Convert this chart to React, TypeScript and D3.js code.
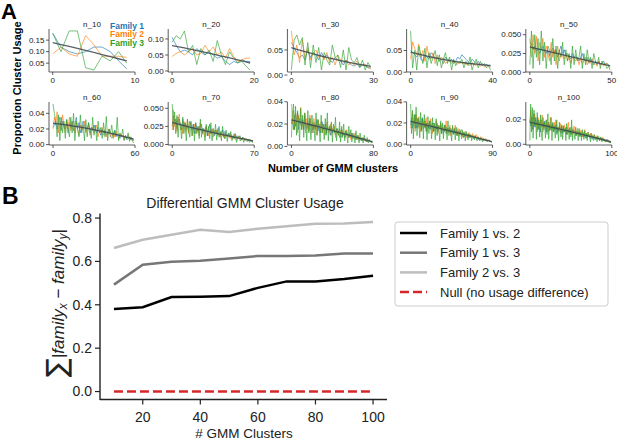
import * as d3 from "d3";

// ---------- panel A data (cluster usage, in thousandths) ----------
const families = ["Family 1", "Family 2", "Family 3"];
const familyColors = ["#1f77b4", "#ff7f0e", "#2ca02c"];
const clusterCounts = [10, 20, 30, 40, 50, 60, 70, 80, 90, 100];

const use10a = [180, 120, 100, 90, 100, 120, 120, 100, 60, 25];
const use10b = [90, 120, 90, 80, 170, 130, 80, 80, 80, 75];
const use10c = [180, 100, 190, 190, 30, 20, 80, 60, 100, 50];

const use20a = [105, 80, 60, 65, 60, 50, 70, 60, 50, 60,
  50, 40, 45, 30, 20, 30, 25, 35, 30, 30];
const use20b = [45, 55, 60, 50, 60, 70, 50, 55, 80, 60,
  75, 50, 60, 40, 70, 45, 30, 35, 40, 40];
const use20c = [90, 110, 100, 125, 60, 80, 20, 70, 50, 65,
  30, 95, 50, 20, 60, 40, 25, 30, 15, 3];

const use30a = [65, 55, 45, 35, 40, 30, 50, 35, 45, 40,
  30, 45, 35, 40, 30, 25, 35, 30, 28, 20,
  30, 25, 20, 18, 22, 15, 20, 18, 15, 14];
const use30b = [88, 40, 60, 25, 70, 35, 55, 30, 45, 50,
  35, 40, 30, 45, 25, 35, 20, 40, 30, 25,
  30, 20, 25, 20, 28, 18, 20, 22, 15, 12];
const use30c = [10, 70, 80, 60, 75, 20, 65, 15, 60, 25,
  55, 10, 45, 30, 20, 60, 35, 40, 15, 50,
  10, 55, 30, 25, 35, 15, 30, 10, 25, 15];

const use40a = [50, 45, 40, 35, 45, 30, 25, 40, 35, 30,
  45, 40, 30, 35, 25, 30, 20, 35, 30, 25,
  30, 20, 25, 35, 30, 40, 35, 30, 25, 20,
  30, 25, 20, 25, 18, 20, 15, 18, 15, 14];
const use40b = [30, 70, 55, 40, 65, 35, 50, 25, 60, 35,
  30, 45, 20, 40, 25, 35, 30, 20, 25, 30,
  20, 25, 22, 18, 25, 20, 22, 18, 20, 15,
  22, 18, 15, 20, 14, 18, 12, 15, 14, 12];
const use40c = [95, 10, 50, 5, 60, 40, 20, 55, 10, 45,
  20, 35, 50, 15, 40, 10, 30, 45, 20, 35,
  5, 30, 15, 25, 20, 30, 10, 25, 15, 35,
  5, 20, 30, 10, 25, 15, 20, 10, 15, 5];

const use50a = [40, 38, 30, 35, 28, 32, 25, 30, 35, 28,
  25, 30, 22, 28, 32, 25, 30, 20, 28, 35,
  25, 30, 22, 25, 20, 18, 25, 20, 22, 18,
  15, 20, 25, 18, 15, 20, 12, 18, 15, 10,
  15, 12, 14, 10, 12, 15, 10, 12, 10, 8];
const use50b = [45, 20, 50, 25, 48, 15, 40, 30, 45, 20,
  35, 25, 15, 40, 20, 30, 10, 35, 15, 25,
  20, 18, 25, 15, 22, 12, 20, 18, 15, 20,
  10, 18, 12, 15, 20, 10, 15, 12, 18, 10,
  12, 8, 15, 10, 12, 8, 10, 12, 8, 6];
const use50c = [10, 55, 5, 50, 20, 45, 10, 55, 15, 40,
  5, 35, 30, 10, 45, 15, 35, 5, 30, 20,
  40, 10, 30, 15, 25, 5, 35, 10, 30, 15,
  20, 35, 5, 25, 10, 30, 15, 20, 5, 25,
  15, 10, 20, 5, 15, 10, 12, 5, 8, 3];

const use60a = [22, 25, 30, 20, 28, 35, 18, 30, 25, 20,
  32, 15, 28, 22, 30, 18, 25, 35, 20, 28,
  15, 22, 30, 25, 18, 20, 28, 15, 22, 18,
  25, 20, 15, 22, 18, 12, 20, 15, 18, 12,
  15, 20, 10, 15, 12, 18, 10, 14, 12, 8,
  12, 10, 8, 10, 6, 8, 10, 6, 8, 5];
const use60b = [20, 35, 25, 42, 15, 30, 20, 38, 25, 15,
  30, 20, 35, 18, 25, 30, 15, 28, 20, 12,
  25, 18, 22, 30, 15, 20, 25, 12, 18, 22,
  15, 20, 25, 10, 18, 15, 22, 12, 18, 10,
  15, 20, 12, 8, 15, 10, 18, 12, 8, 14,
  10, 12, 6, 10, 8, 12, 6, 8, 5, 6];
const use60c = [52, 40, 30, 10, 38, 5, 35, 15, 30, 8,
  32, 20, 10, 35, 15, 40, 5, 30, 20, 10,
  38, 15, 25, 5, 32, 10, 28, 20, 8, 35,
  12, 25, 5, 30, 15, 22, 8, 28, 10, 36,
  5, 20, 15, 25, 8, 18, 12, 35, 5, 15,
  10, 20, 5, 12, 8, 15, 4, 10, 6, 2];

const use70a = [25, 40, 30, 35, 22, 38, 28, 30, 20, 35,
  25, 30, 22, 28, 18, 32, 25, 20, 28, 15,
  30, 22, 18, 25, 20, 28, 15, 22, 18, 25,
  12, 20, 28, 15, 18, 22, 12, 20, 15, 18,
  25, 12, 15, 20, 10, 18, 14, 12, 16, 10,
  14, 12, 8, 15, 10, 12, 8, 10, 12, 6,
  10, 8, 6, 8, 6, 5, 7, 6, 5, 4];
const use70b = [20, 48, 25, 35, 18, 30, 42, 20, 28, 15,
  32, 22, 18, 35, 15, 25, 30, 12, 22, 28,
  15, 20, 25, 12, 30, 18, 15, 22, 10, 25,
  18, 12, 20, 15, 22, 10, 18, 14, 20, 12,
  16, 10, 18, 12, 15, 8, 14, 10, 12, 16,
  8, 12, 10, 14, 6, 10, 12, 8, 10, 6,
  8, 10, 5, 8, 6, 7, 5, 6, 4, 5];
const use70c = [56, 20, 45, 15, 40, 10, 35, 25, 8, 38,
  15, 30, 5, 35, 20, 10, 32, 12, 28, 5,
  30, 15, 25, 8, 35, 10, 22, 18, 5, 28,
  12, 25, 8, 30, 5, 20, 15, 28, 6, 22,
  10, 18, 5, 25, 12, 8, 20, 4, 15, 10,
  18, 5, 12, 8, 15, 3, 10, 12, 5, 8,
  10, 3, 8, 6, 4, 7, 3, 5, 4, 2];

const use80a = [20, 25, 15, 28, 18, 22, 30, 15, 25, 20,
  18, 24, 15, 28, 20, 16, 22, 14, 25, 18,
  20, 12, 22, 16, 18, 24, 14, 20, 12, 18,
  22, 15, 16, 20, 12, 18, 14, 16, 10, 18,
  12, 15, 14, 10, 16, 12, 14, 8, 12, 15,
  10, 12, 8, 14, 10, 12, 8, 10, 9, 12,
  7, 10, 8, 6, 9, 7, 8, 6, 7, 5,
  6, 7, 5, 6, 4, 5, 6, 4, 5, 4];
const use80b = [38, 20, 32, 15, 30, 25, 12, 28, 20, 35,
  15, 22, 18, 30, 12, 25, 20, 15, 28, 18,
  12, 22, 25, 15, 20, 10, 24, 18, 14, 22,
  12, 20, 16, 10, 18, 22, 12, 15, 20, 10,
  16, 14, 18, 8, 15, 12, 10, 16, 12, 8,
  14, 10, 12, 8, 15, 10, 8, 12, 6, 10,
  9, 7, 12, 8, 6, 10, 5, 8, 7, 6,
  8, 5, 7, 6, 4, 6, 5, 4, 5, 3];
const use80c = [8, 30, 38, 15, 36, 10, 32, 20, 5, 34,
  15, 28, 8, 30, 18, 5, 32, 12, 25, 6,
  28, 15, 20, 5, 30, 10, 24, 18, 4, 28,
  12, 20, 6, 25, 10, 30, 5, 18, 14, 22,
  4, 20, 12, 26, 5, 16, 10, 22, 4, 18,
  8, 20, 5, 14, 12, 3, 18, 8, 15, 4,
  12, 10, 3, 14, 6, 10, 3, 12, 5, 8,
  3, 10, 6, 4, 8, 3, 6, 5, 3, 4];

const use90a = [18, 25, 15, 22, 20, 28, 15, 20, 24, 16,
  22, 18, 14, 25, 20, 16, 22, 12, 20, 18,
  15, 22, 14, 18, 20, 12, 18, 16, 14, 20,
  12, 17, 15, 18, 10, 16, 14, 12, 18, 10,
  15, 13, 11, 16, 10, 14, 12, 9, 15, 10,
  12, 8, 13, 11, 9, 12, 8, 10, 11, 7,
  9, 10, 8, 6, 9, 7, 8, 6, 7, 8,
  5, 7, 6, 5, 6, 4, 5, 6, 4, 5,
  3, 4, 5, 3, 4, 3, 4, 3, 2, 3];
const use90b = [15, 22, 30, 18, 25, 12, 28, 20, 15, 26,
  18, 12, 24, 20, 14, 22, 16, 25, 12, 18,
  20, 14, 24, 16, 10, 20, 18, 12, 22, 15,
  10, 18, 14, 20, 12, 16, 10, 18, 14, 22,
  10, 15, 12, 18, 8, 14, 16, 10, 13, 18,
  9, 12, 15, 8, 12, 10, 14, 7, 11, 9,
  12, 6, 10, 8, 11, 6, 9, 7, 10, 5,
  8, 6, 9, 5, 7, 6, 4, 7, 5, 6,
  4, 5, 3, 5, 4, 3, 4, 3, 2, 3];
const use90c = [38, 10, 32, 5, 28, 15, 35, 8, 25, 20,
  6, 30, 12, 24, 5, 28, 15, 20, 4, 26,
  10, 22, 18, 5, 25, 12, 20, 4, 24, 8,
  18, 14, 3, 22, 10, 20, 5, 18, 12, 16,
  4, 22, 8, 15, 12, 3, 18, 10, 14, 4,
  16, 8, 12, 3, 14, 10, 5, 13, 6, 11,
  3, 12, 8, 4, 10, 6, 9, 3, 8, 7,
  4, 8, 5, 3, 7, 5, 3, 6, 4, 2,
  5, 4, 3, 4, 2, 3, 4, 2, 3, 1];

const use100a = [20, 15, 22, 12, 18, 25, 14, 20, 16, 22,
  12, 18, 15, 10, 20, 14, 17, 12, 19, 15,
  10, 16, 13, 18, 11, 15, 14, 12, 17, 10,
  14, 12, 16, 9, 13, 11, 15, 10, 12, 14,
  9, 13, 11, 10, 14, 8, 12, 10, 13, 9,
  11, 8, 12, 10, 9, 11, 7, 10, 9, 8,
  10, 7, 9, 6, 8, 9, 6, 8, 7, 5,
  8, 6, 7, 5, 6, 7, 4, 6, 5, 6,
  4, 5, 6, 4, 5, 3, 4, 5, 3, 4,
  3, 4, 2, 3, 4, 2, 3, 2, 2, 1];
const use100b = [18, 28, 15, 22, 12, 20, 25, 14, 18, 10,
  22, 16, 12, 20, 15, 24, 10, 18, 14, 12,
  20, 15, 10, 18, 13, 22, 11, 16, 14, 10,
  18, 12, 15, 20, 10, 14, 12, 17, 9, 15,
  13, 10, 16, 12, 8, 14, 11, 18, 9, 12,
  10, 14, 8, 12, 15, 9, 11, 8, 13, 10,
  7, 12, 9, 11, 6, 10, 8, 12, 7, 9,
  6, 10, 8, 5, 9, 7, 6, 8, 5, 7,
  6, 4, 7, 5, 6, 4, 5, 3, 6, 4,
  5, 3, 4, 3, 2, 4, 2, 3, 2, 2];
const use100c = [3, 33, 10, 30, 5, 28, 15, 22, 4, 26,
  12, 20, 6, 24, 10, 3, 22, 14, 18, 5,
  20, 8, 25, 4, 16, 12, 22, 3, 18, 10,
  15, 5, 20, 8, 14, 3, 18, 12, 6, 16,
  4, 15, 10, 13, 3, 17, 8, 12, 4, 14,
  6, 20, 3, 12, 9, 4, 14, 7, 11, 3,
  13, 6, 10, 3, 12, 8, 4, 11, 5, 9,
  3, 10, 6, 8, 2, 9, 5, 7, 3, 8,
  4, 6, 2, 7, 5, 3, 6, 4, 2, 5,
  3, 4, 2, 3, 2, 3, 2, 1, 2, 1];

const usageByPanel = [
  [use10a, use10b, use10c],
  [use20a, use20b, use20c],
  [use30a, use30b, use30c],
  [use40a, use40b, use40c],
  [use50a, use50b, use50c],
  [use60a, use60b, use60c],
  [use70a, use70b, use70c],
  [use80a, use80b, use80c],
  [use90a, use90b, use90c],
  [use100a, use100b, use100c],
];

const yTickLabels = [
  ["0.05", "0.10", "0.15"],
  ["0.00", "0.05", "0.10"],
  ["0.00", "0.05"],
  ["0.00", "0.05"],
  ["0.000", "0.025", "0.050"],
  ["0.00", "0.02", "0.04"],
  ["0.000", "0.025", "0.050"],
  ["0.00", "0.02", "0.04"],
  ["0.00", "0.02", "0.04"],
  ["0.00", "0.02"],
];

// ---------- panel B data ----------
const gmmClusters = [10, 20, 30, 40, 50, 60, 70, 80, 90, 100];
const diff12 = [0.381, 0.389, 0.436, 0.437, 0.44, 0.478, 0.508, 0.508, 0.519, 0.534];
const diff13 = [0.493, 0.585, 0.599, 0.603, 0.614, 0.625, 0.625, 0.627, 0.636, 0.636];
const diff23 = [0.662, 0.7, 0.723, 0.746, 0.736, 0.751, 0.762, 0.774, 0.775, 0.782];
const diffNull = [0, 0, 0, 0, 0, 0, 0, 0, 0, 0];
const comparisons = ["Family 1 vs. 2", "Family 1 vs. 3", "Family 2 vs. 3", "Null (no usage difference)"];
const bXTicks = [20, 40, 60, 80, 100];
const bYTicks = ["0.0", "0.2", "0.4", "0.6", "0.8"];

const FONT = "'Liberation Sans', Arial, sans-serif";

// least-squares quadratic trend through the family mean
function quadTrend(ys: number[]): number[] {
  const n = ys.length;
  let s0 = 0, s1 = 0, s2 = 0, s3 = 0, s4 = 0, t0 = 0, t1 = 0, t2 = 0;
  ys.forEach((y, x) => {
    s0 += 1; s1 += x; s2 += x * x; s3 += x ** 3; s4 += x ** 4;
    t0 += y; t1 += x * y; t2 += x * x * y;
  });
  const det = (m: number[][]) =>
    m[0][0] * (m[1][1] * m[2][2] - m[1][2] * m[2][1]) -
    m[0][1] * (m[1][0] * m[2][2] - m[1][2] * m[2][0]) +
    m[0][2] * (m[1][0] * m[2][1] - m[1][1] * m[2][0]);
  const D = det([[s0, s1, s2], [s1, s2, s3], [s2, s3, s4]]);
  const c0 = det([[t0, s1, s2], [t1, s2, s3], [t2, s3, s4]]) / D;
  const c1 = det([[s0, t0, s2], [s1, t1, s3], [s2, t2, s4]]) / D;
  const c2 = det([[s0, s1, t0], [s1, s2, t1], [s2, s3, t2]]) / D;
  return d3.range(n).map((x) => c0 + c1 * x + c2 * x * x);
}

function SmallPanel({ idx }: { idx: number }) {
  const n = clusterCounts[idx];
  const series = usageByPanel[idx].map((s) => s.map((v) => v / 1000));
  const col = idx % 5;
  const row = Math.floor(idx / 5);
  const left = 49 + col * 119.2;
  const width = 86;
  const top = row === 0 ? 29 : 102;
  const height = 43;

  const x = d3.scaleLinear().domain([-(n - 1) * 0.05, n]).range([left, left + width]);
  const [lo, hi] = d3.extent(series.flat()) as [number, number];
  const pad = (hi - lo) * 0.05;
  const y = d3.scaleLinear().domain([lo - pad, hi + pad]).range([top + height, top]);

  const line = d3.line<number>().x((_, i) => x(i)).y((d) => y(d));
  const mean = d3.range(series[0].length).map((i) => d3.mean(series, (s) => s[i]) as number);
  const trend = quadTrend(mean);

  return (
    <g>
      <text x={left + width / 2} y={top - 2} textAnchor="middle" fontSize={8} fill="#222">
        {`n_${n}`}
      </text>
      {series.map((s, k) => (
        <path key={k} d={line(s) || ""} fill="none" stroke={familyColors[k]} strokeWidth={0.8} opacity={0.8} />
      ))}
      <path d={line(trend) || ""} fill="none" stroke="#3a4550" strokeWidth={1.3} opacity={0.85} />
      <line x1={left} x2={left} y1={top} y2={top + height} stroke="#333" strokeWidth={0.8} />
      <line x1={left} x2={left + width} y1={top + height} y2={top + height} stroke="#333" strokeWidth={0.8} />
      {yTickLabels[idx].map((t) => (
        <g key={t} transform={`translate(${left},${y(+t)})`}>
          <line x1={-3} x2={0} stroke="#333" strokeWidth={0.8} />
          <text x={-4.5} dy="0.32em" textAnchor="end" fontSize={8} fill="#222">{t}</text>
        </g>
      ))}
      {[0, n].map((t) => (
        <g key={t} transform={`translate(${x(t)},${top + height})`}>
          <line y1={0} y2={3} stroke="#333" strokeWidth={0.8} />
          <text y={11} textAnchor="middle" fontSize={8} fill="#222">{t}</text>
        </g>
      ))}
      {idx === 0 &&
        families.map((f, k) => (
          <text key={f} x={110} y={28.5 + k * 8.8} fontSize={8.5} fontWeight="bold" fill={familyColors[k]}>
            {f}
          </text>
        ))}
    </g>
  );
}

function PanelB() {
  const x = d3.scaleLinear().domain([5.5, 104.5]).range([101, 386]);
  const y = d3.scaleLinear().domain([-0.039, 0.821]).range([400, 213.5]);
  const line = d3.line<number>().x((_, i) => x(gmmClusters[i])).y((d) => y(d));
  const seriesList = [diff12, diff13, diff23, diffNull];
  const colors = ["#000000", "#777777", "#bdbdbd", "#d62728"];
  const dashes = [undefined, undefined, undefined, "9,4"];

  return (
    <g>
      <text x={245} y={208} textAnchor="middle" fontSize={14} fill="#222">Differential GMM Cluster Usage</text>
      {seriesList.map((s, k) => (
        <path key={k} d={line(s) || ""} fill="none" stroke={colors[k]} strokeWidth={2.5} strokeDasharray={dashes[k]} />
      ))}
      <line x1={100} x2={100} y1={213.5} y2={400} stroke="#222" strokeWidth={1.4} />
      <line x1={100} x2={387} y1={399.5} y2={399.5} stroke="#222" strokeWidth={1.4} />
      {bYTicks.map((t) => (
        <g key={t} transform={`translate(100,${y(+t)})`}>
          <line x1={-5} x2={0} stroke="#222" strokeWidth={1.2} />
          <text x={-8} dy="0.35em" textAnchor="end" fontSize={14} fill="#222">{t}</text>
        </g>
      ))}
      {bXTicks.map((t) => (
        <g key={t} transform={`translate(${x(t)},399.5)`}>
          <line y1={0} y2={5} stroke="#222" strokeWidth={1.2} />
          <text y={22.5} textAnchor="middle" fontSize={14} fill="#222">{t}</text>
        </g>
      ))}
      <text x={244} y={437.5} textAnchor="middle" fontSize={13.5} fill="#222"># GMM Clusters</text>
      <text transform="translate(64,303) rotate(-90)" textAnchor="middle" fontSize={17} fill="#222">
        <tspan fontSize={28} fontFamily="'DejaVu Sans', sans-serif" dy={2}>∑</tspan>
        <tspan dy={-2}>|</tspan>
        <tspan fontStyle="italic">family</tspan>
        <tspan fontSize={12} fontStyle="italic" dy={3}>x</tspan>
        <tspan dy={-3}> − </tspan>
        <tspan fontStyle="italic">family</tspan>
        <tspan fontSize={12} fontStyle="italic" dy={3}>y</tspan>
        <tspan dy={-3}>|</tspan>
      </text>
      <rect x={395} y={222} width={213} height={84} rx={3} fill="#fff" stroke="#cccccc" strokeWidth={1} />
      {comparisons.map((c, k) => (
        <g key={c} transform={`translate(0,${233 + k * 19.7})`}>
          <line x1={400} x2={427} stroke={colors[k]} strokeWidth={2.5} strokeDasharray={dashes[k]} />
          <text x={440} dy="0.35em" fontSize={13} fill="#222">{c}</text>
        </g>
      ))}
    </g>
  );
}

export default function App() {
  return (
    <svg
      width={617}
      height={439}
      style={{ position: "absolute", left: 0, top: 0, background: "#fff" }}
      fontFamily={FONT}
    >
      <text x={1} y={19} fontSize={22} fontWeight="bold" fill="#000">A</text>
      <text transform="translate(21,88) rotate(-90)" textAnchor="middle" fontSize={11} fontWeight="bold" fill="#000">
        Proportion Cluster Usage
      </text>
      {clusterCounts.map((_, i) => (
        <SmallPanel key={i} idx={i} />
      ))}
      <text x={333} y={172} textAnchor="middle" fontSize={11} fontWeight="bold" fill="#000">
        Number of GMM clusters
      </text>
      <text x={2} y={204} fontSize={23} fontWeight="bold" fill="#000">B</text>
      <PanelB />
    </svg>
  );
}
